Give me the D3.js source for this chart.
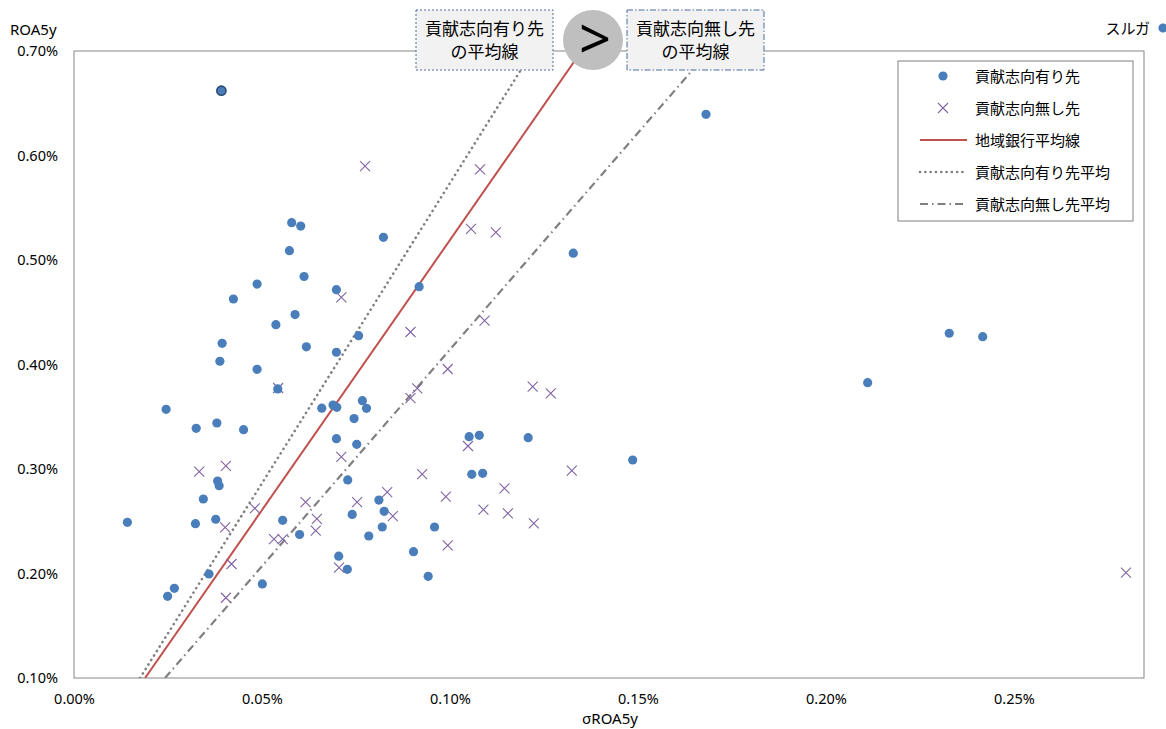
<!DOCTYPE html>
<html><head><meta charset="utf-8">
<script src="https://cdn.jsdelivr.net/npm/d3@7"></script>
<style>
html,body{margin:0;padding:0;background:#fff;}
svg{display:block;}
text{font-family:"Noto Sans","Noto Sans CJK JP",sans-serif;}
.jp{font-family:"Noto Sans CJK JP",sans-serif;}
</style></head>
<body>
<svg id="chart" width="1166" height="729"></svg>
<script>
// ---- data (x = σROA5y in %, y = ROA5y in %) ----
const seriesNames = ["貢献志向有り先","貢献志向無し先","地域銀行平均線","貢献志向有り先平均","貢献志向無し先平均"];
const withX = [0.0392,0.1681,0.0579,0.0603,0.0823,0.0573,0.1328,0.0612,0.0487,0.0698,0.0918,0.0424,0.0588,0.0537,0.0394,0.0618,0.0698,0.0757,0.2328,0.2417,0.0388,0.0487,0.0542,0.2111,0.0245,0.0325,0.0380,0.0451,0.0659,0.0689,0.0699,0.0767,0.0778,0.0745,0.0698,0.0752,0.1051,0.1078,0.1208,0.1058,0.1087,0.0728,0.0382,0.0386,0.0344,0.0142,0.0323,0.0377,0.0555,0.0600,0.0811,0.0825,0.0820,0.0784,0.0740,0.0704,0.0727,0.0359,0.0267,0.0249,0.0501,0.0959,0.0903,0.0942,0.1486];
const withY = [0.662,0.6394,0.5357,0.5325,0.5217,0.5089,0.5065,0.4842,0.4770,0.4716,0.4745,0.4627,0.4478,0.4381,0.4203,0.4169,0.4117,0.4276,0.4299,0.4266,0.4031,0.3954,0.3766,0.3826,0.3571,0.3389,0.3440,0.3376,0.3582,0.3612,0.3590,0.3654,0.3581,0.3483,0.3290,0.3236,0.3309,0.3322,0.3300,0.2949,0.2959,0.2895,0.2885,0.2840,0.2713,0.2490,0.2477,0.2519,0.2509,0.2373,0.2703,0.2595,0.2445,0.2359,0.2565,0.2166,0.2040,0.1995,0.1858,0.1782,0.1900,0.2445,0.2209,0.1973,0.3086];
const withoutX = [0.0774,0.1080,0.1056,0.1122,0.0711,0.0895,0.1092,0.0994,0.0913,0.0895,0.1220,0.1268,0.0543,0.1048,0.0711,0.0926,0.1324,0.0989,0.1145,0.0833,0.0753,0.0616,0.0646,0.0643,0.0848,0.1089,0.1154,0.1223,0.0994,0.0555,0.0705,0.0333,0.0404,0.0481,0.0402,0.0532,0.0419,0.0404,0.2798];
const withoutY = [0.5898,0.5868,0.5297,0.5265,0.4643,0.4311,0.4419,0.3957,0.3772,0.3679,0.3788,0.3724,0.3775,0.3220,0.3115,0.2952,0.2984,0.2735,0.2815,0.2778,0.2684,0.2684,0.2523,0.2410,0.2548,0.2611,0.2576,0.2480,0.2270,0.2328,0.2057,0.2974,0.3029,0.2624,0.2442,0.2330,0.2091,0.1768,0.2008];
const highlightIndex = 0; // outlined point in 貢献志向有り先
// average lines: [x at y=0.10%, x at y=0.70%]
const lineYs = [0.10, 0.70];
const regionalAvgX = [0.0189, 0.1350];
const withAvgX = [0.01755, 0.1220];
const withoutAvgX = [0.0242, 0.1689];
const xTicks = [0, 0.05, 0.10, 0.15, 0.20, 0.25];
const yTicks = [0.10, 0.20, 0.30, 0.40, 0.50, 0.60, 0.70];
const xTitle = "σROA5y", yTitle = "ROA5y";
const boxLeftText = ["貢献志向有り先","の平均線"];
const boxRightText = ["貢献志向無し先","の平均線"];
const outlierLabel = "スルガ";

// ---- layout ----
const svg = d3.select("#chart");
const L = 74, R = 1144, T = 51, B = 678;
const x = d3.scaleLinear().domain([0, 0.2846]).range([L, R]);
const y = d3.scaleLinear().domain([0.10, 0.70]).range([B, T]);
const blue = "#4a7ebb", purple = "#8064a2", red = "#c0504d", gray = "#808080";

// frame
svg.append("rect").attr("x", L).attr("y", T).attr("width", R - L).attr("height", B - T)
  .attr("fill", "#fff").attr("stroke", "#868686").attr("stroke-width", 1);

// axes
const yAxis = d3.axisLeft(y).tickValues(yTicks).tickSize(0).tickPadding(16)
  .tickFormat(d => d.toFixed(2) + "%");
svg.append("g").attr("transform", `translate(${L},0)`).call(yAxis)
  .call(g => g.select(".domain").remove())
  .selectAll("text").attr("font-size", 14.5).attr("fill", "#000")
  .attr("font-family", "'Noto Sans',sans-serif");
const xAxis = d3.axisBottom(x).tickValues(xTicks).tickSize(0).tickPadding(16)
  .tickFormat(d => d.toFixed(2) + "%");
svg.append("g").attr("transform", `translate(0,${B})`).call(xAxis)
  .call(g => g.select(".domain").remove())
  .selectAll("text").attr("font-size", 14.5).attr("fill", "#000")
  .attr("font-family", "'Noto Sans',sans-serif");

svg.append("text").attr("x", 10).attr("y", 35).attr("font-size", 15).text(yTitle);
svg.append("text").attr("x", 610).attr("y", 724).attr("text-anchor", "middle").attr("font-size", 15).text(xTitle);

// lines
const clip = svg.append("clipPath").attr("id", "pc").append("rect")
  .attr("x", L).attr("y", T).attr("width", R - L).attr("height", B - T);
const lineGen = d3.line().x(d => x(d[0])).y(d => y(d[1]));
const lg = svg.append("g").attr("clip-path", "url(#pc)");
lg.append("path").datum(withAvgX.map((v, i) => [v, lineYs[i]])).attr("d", lineGen)
  .attr("fill", "none").attr("stroke", gray).attr("stroke-width", 2.6)
  .attr("stroke-linecap", "round").attr("stroke-dasharray", "0.1 5.2");
lg.append("path").datum(withoutAvgX.map((v, i) => [v, lineYs[i]])).attr("d", lineGen)
  .attr("fill", "none").attr("stroke", gray).attr("stroke-width", 2.2)
  .attr("stroke-dasharray", "8 4 1.5 4");
lg.append("path").datum(regionalAvgX.map((v, i) => [v, lineYs[i]])).attr("d", lineGen)
  .attr("fill", "none").attr("stroke", red).attr("stroke-width", 2);

// points
const withData = withX.map((v, i) => ({x: v, y: withY[i], i}));
const withoutData = withoutX.map((v, i) => ({x: v, y: withoutY[i]}));
const xs = 5;
svg.append("g").selectAll("path").data(withoutData).join("path")
  .attr("d", d => `M${x(d.x)-xs},${y(d.y)-xs}L${x(d.x)+xs},${y(d.y)+xs}M${x(d.x)-xs},${y(d.y)+xs}L${x(d.x)+xs},${y(d.y)-xs}`)
  .attr("stroke", purple).attr("stroke-width", 1.1).attr("fill", "none");
svg.append("g").selectAll("circle").data(withData).join("circle")
  .attr("cx", d => x(d.x)).attr("cy", d => y(d.y)).attr("r", 4.6)
  .attr("fill", blue)
  .attr("stroke", d => d.i === highlightIndex ? "#2a4b75" : "none")
  .attr("stroke-width", 1.6);

// outlier label
svg.append("text").attr("class", "jp").attr("x", 1150).attr("y", 34).attr("text-anchor", "end")
  .attr("font-size", 15).text(outlierLabel);
svg.append("circle").attr("cx", 1163).attr("cy", 28).attr("r", 4.6).attr("fill", blue);

// legend
const lgx = 898, lgy = 61;
const leg = svg.append("g");
leg.append("rect").attr("x", lgx).attr("y", lgy).attr("width", 235).attr("height", 160)
  .attr("fill", "#fff").attr("stroke", "#808080").attr("stroke-width", 1);
seriesNames.forEach((name, i) => {
  const cy = 76 + i * 32;
  if (i === 0) leg.append("circle").attr("cx", 943).attr("cy", cy).attr("r", 4.6).attr("fill", blue);
  else if (i === 1) leg.append("path").attr("d", `M${943-xs},${cy-xs}L${943+xs},${cy+xs}M${943-xs},${cy+xs}L${943+xs},${cy-xs}`)
    .attr("stroke", purple).attr("stroke-width", 1.1);
  else {
    const p = leg.append("line").attr("x1", 920).attr("x2", 967).attr("y1", cy).attr("y2", cy);
    if (i === 2) p.attr("stroke", red).attr("stroke-width", 2);
    if (i === 3) p.attr("stroke", gray).attr("stroke-width", 2.6).attr("stroke-linecap", "round").attr("stroke-dasharray", "0.1 5.2");
    if (i === 4) p.attr("stroke", gray).attr("stroke-width", 2.2).attr("stroke-dasharray", "8 4 1.5 4");
  }
  leg.append("text").attr("class", "jp").attr("x", 975).attr("y", cy + 5.5).attr("font-size", 15).text(name);
});

// annotation boxes
function annBox(x0, x1, lines, dash) {
  const g = svg.append("g");
  g.append("rect").attr("x", x0).attr("y", 10).attr("width", x1 - x0).attr("height", 60)
    .attr("fill", "#f2f2f2").attr("stroke", "#4f6d9e").attr("stroke-width", 1)
    .attr("stroke-dasharray", dash);
  lines.forEach((t, i) => g.append("text").attr("class", "jp")
    .attr("x", (x0 + x1) / 2).attr("y", 35 + i * 23).attr("text-anchor", "middle")
    .attr("font-size", 17).attr("fill", "#000").text(t));
}
annBox(416, 553, boxLeftText, "2 2");
annBox(627, 764, boxRightText, "6 2 1.5 2");
svg.append("circle").attr("cx", 593).attr("cy", 40).attr("r", 30).attr("fill", "#bfbfbf");
svg.append("text").attr("x", 595).attr("y", 59).attr("text-anchor", "middle")
  .attr("font-size", 56).attr("font-family", "'DejaVu Sans',sans-serif").attr("fill", "#000").text(">");
</script>
</body></html>
